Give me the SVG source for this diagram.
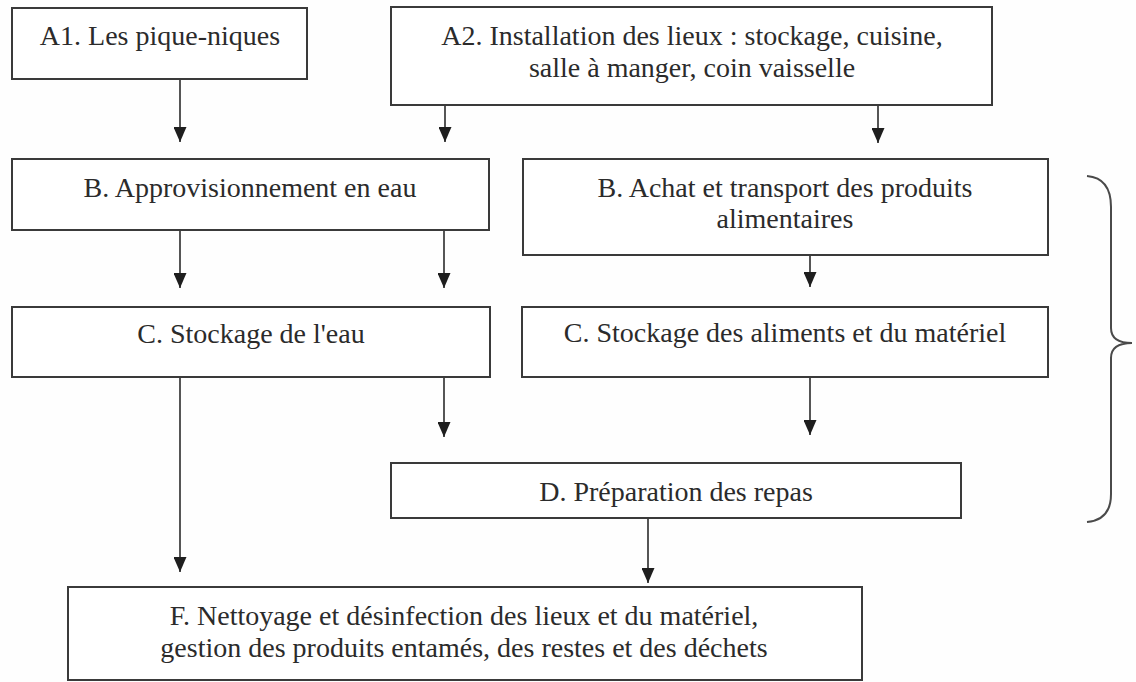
<svg xmlns="http://www.w3.org/2000/svg" width="1136" height="682" viewBox="0 0 1136 682">
<style>
.box{fill:#ffffff;stroke:#3a3a3a;stroke-width:2}
.t{font-family:"Liberation Serif","Times New Roman",serif;font-size:28px;fill:#2b2b2b;text-anchor:middle}
.c{stroke:#2b2b2b;stroke-width:1.6;fill:none;marker-end:url(#ah)}
.brace{stroke:#4a4a4a;stroke-width:2;fill:none}
</style>
<defs>
<marker id="ah" viewBox="0 0 15 13" refX="15" refY="6.5" markerWidth="15" markerHeight="13" markerUnits="userSpaceOnUse" orient="auto">
<path d="M0,0 L15,6.5 L0,13 z" fill="#1e1e1e"/>
</marker>
</defs>
<rect width="1136" height="682" fill="#fefefe"/>
<g id="connectors">
<line class="c" x1="180" y1="79" x2="180" y2="142"/>
<line class="c" x1="445" y1="105" x2="445" y2="142"/>
<line class="c" x1="878" y1="105" x2="878" y2="143"/>
<line class="c" x1="180" y1="230" x2="180" y2="288"/>
<line class="c" x1="444" y1="230" x2="444" y2="288"/>
<line class="c" x1="810" y1="255" x2="810" y2="287"/>
<line class="c" x1="444" y1="377" x2="444" y2="437"/>
<line class="c" x1="810" y1="377" x2="810" y2="435"/>
<line class="c" x1="180" y1="377" x2="180" y2="572"/>
<line class="c" x1="648" y1="518" x2="648" y2="583"/>
</g>
<g id="A1">
<rect class="box" x="12" y="8" width="295" height="71"/>
<text class="t" x="160" y="45">A1. Les pique-niques</text>
</g>
<g id="A2">
<rect class="box" x="391" y="7" width="601" height="98"/>
<text class="t" x="692" y="45">A2. Installation des lieux : stockage, cuisine,</text>
<text class="t" x="692" y="77">salle à manger, coin vaisselle</text>
</g>
<g id="B_eau">
<rect class="box" x="12" y="159" width="477" height="71"/>
<text class="t" x="250" y="197">B. Approvisionnement en eau</text>
</g>
<g id="B_achat">
<rect class="box" x="523" y="159" width="525" height="96"/>
<text class="t" x="785" y="197">B. Achat et transport des produits</text>
<text class="t" x="785" y="228">alimentaires</text>
</g>
<g id="C_eau">
<rect class="box" x="12" y="307" width="478" height="70"/>
<text class="t" x="251" y="343">C. Stockage de l'eau</text>
</g>
<g id="C_aliments">
<rect class="box" x="522" y="307" width="526" height="70"/>
<text class="t" x="785" y="342">C. Stockage des aliments et du matériel</text>
</g>
<g id="D">
<rect class="box" x="391" y="463" width="570" height="55"/>
<text class="t" x="676" y="501">D. Préparation des repas</text>
</g>
<g id="F">
<rect class="box" x="68" y="587" width="794" height="93"/>
<text class="t" x="464" y="625">F. Nettoyage et désinfection des lieux et du matériel,</text>
<text class="t" x="464" y="657">gestion des produits entamés, des restes et des déchets</text>
</g>
<g id="brace">
<path class="brace" d="M1087,176 Q1111,178 1111,207 L1111,328 Q1111,343 1132,343 Q1111,343 1111,358 L1111,494 Q1111,520 1087,522"/>
</g>
</svg>
